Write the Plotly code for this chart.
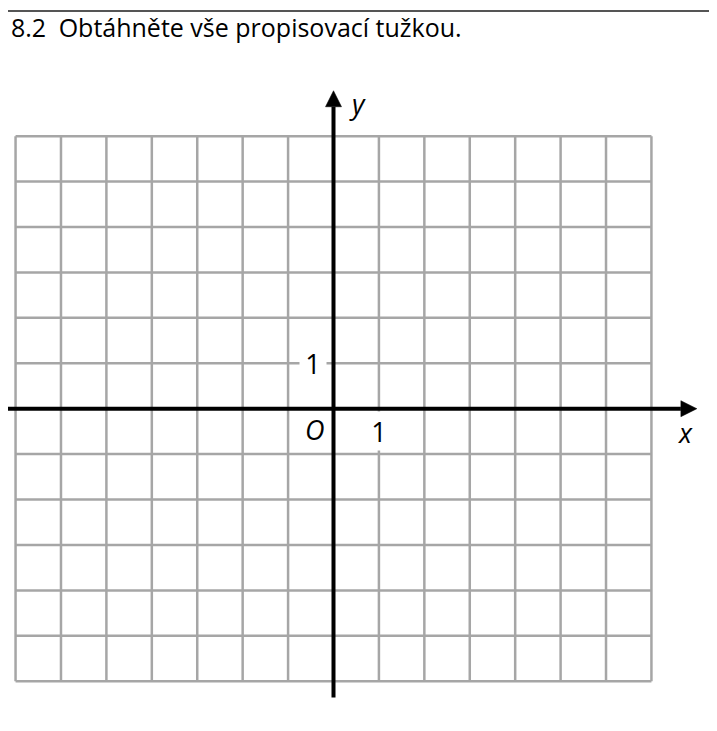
import plotly.graph_objects as go

# hodnoty mřížky a os
x_ticks = list(range(-7, 8))      # svislé čáry mřížky
y_ticks = list(range(-6, 7))      # vodorovné čáry mřížky
x_axis_span = [-7.5, 8.0]         # osa x (konec = hrot šipky)
y_axis_span = [-6.36, 7.0]        # osa y (konec = hrot šipky)
unit_labels = ["1", "1"]
title_text = "8.2\u2002Obtáhněte vše propisovací tužkou."

# stránka má okraj 8 px, graf je proto o 8 px menší
PAD = 8
W, H = 717 - PAD, 731 - PAD
CELL = 45.42
OX, OY = 333.5 - PAD, 408.7 - PAD
x_range = [-OX / CELL, (W - OX) / CELL]
y_range = [-(H - OY) / CELL, OY / CELL]

ARROW_LEN = 16 / CELL
ARROW_HALF = 8 / CELL

fig = go.Figure()

# mřížka
gx, gy = [], []
for t in x_ticks:
    gx += [t, t, None]
    gy += [y_ticks[0], y_ticks[-1], None]
for t in y_ticks:
    gx += [x_ticks[0], x_ticks[-1], None]
    gy += [t, t, None]
fig.add_trace(go.Scatter(x=gx, y=gy, mode="lines",
                         line=dict(color="#a6a6a6", width=2.5),
                         hoverinfo="skip"))

# osy
x_end = x_axis_span[1]
y_end = y_axis_span[1]
fig.add_trace(go.Scatter(x=[x_axis_span[0], x_end - ARROW_LEN], y=[0, 0], mode="lines",
                         line=dict(color="black", width=4), hoverinfo="skip"))
fig.add_trace(go.Scatter(x=[0, 0], y=[y_axis_span[0], y_end - ARROW_LEN], mode="lines",
                         line=dict(color="black", width=4), hoverinfo="skip"))

# šipky
fig.add_trace(go.Scatter(
    x=[x_end - ARROW_LEN, x_end, x_end - ARROW_LEN, x_end - ARROW_LEN],
    y=[ARROW_HALF, 0, -ARROW_HALF, ARROW_HALF],
    mode="lines", fill="toself", fillcolor="black",
    line=dict(color="black", width=0.5), hoverinfo="skip"))
fig.add_trace(go.Scatter(
    x=[-ARROW_HALF, 0, ARROW_HALF, -ARROW_HALF],
    y=[y_end - ARROW_LEN, y_end, y_end - ARROW_LEN, y_end - ARROW_LEN],
    mode="lines", fill="toself", fillcolor="black",
    line=dict(color="black", width=0.5), hoverinfo="skip"))

lab_font = dict(family="Open Sans", size=27, color="black")

# popisky
fig.add_annotation(x=-0.45, y=1, text=unit_labels[0], showarrow=False,
                   font=lab_font, bgcolor="white", width=26, height=28, borderpad=0)
fig.add_annotation(x=1, y=-0.48, text=unit_labels[1], showarrow=False,
                   font=lab_font, bgcolor="white", width=24, height=38, borderpad=0)
fig.add_annotation(x=-0.41, y=-0.45, text="<i>O</i>", showarrow=False, font=lab_font)
fig.add_annotation(x=7.76, y=-0.53, text="<i>x</i>", showarrow=False, font=lab_font)
fig.add_annotation(x=0.52, y=6.73, text="<i>y</i>", showarrow=False, font=lab_font)

fig.update_layout(
    width=W, height=H,
    margin=dict(l=0, r=0, t=0, b=0),
    paper_bgcolor="white", plot_bgcolor="white",
    showlegend=False,
    title=dict(text=title_text, x=(11 - PAD) / W, xanchor="left",
               y=1 - (28 - PAD) / H, yanchor="middle", yref="container",
               font=dict(family="Open Sans", size=25, color="black")),
    xaxis=dict(range=x_range, visible=False, fixedrange=True),
    yaxis=dict(range=y_range, visible=False, fixedrange=True),
    shapes=[dict(type="line", xref="paper", yref="paper",
                 x0=0, x1=1, y0=1 - (11 - PAD) / H, y1=1 - (11 - PAD) / H,
                 line=dict(color="#555555", width=2))],
)

fig.write_html("out.html")
